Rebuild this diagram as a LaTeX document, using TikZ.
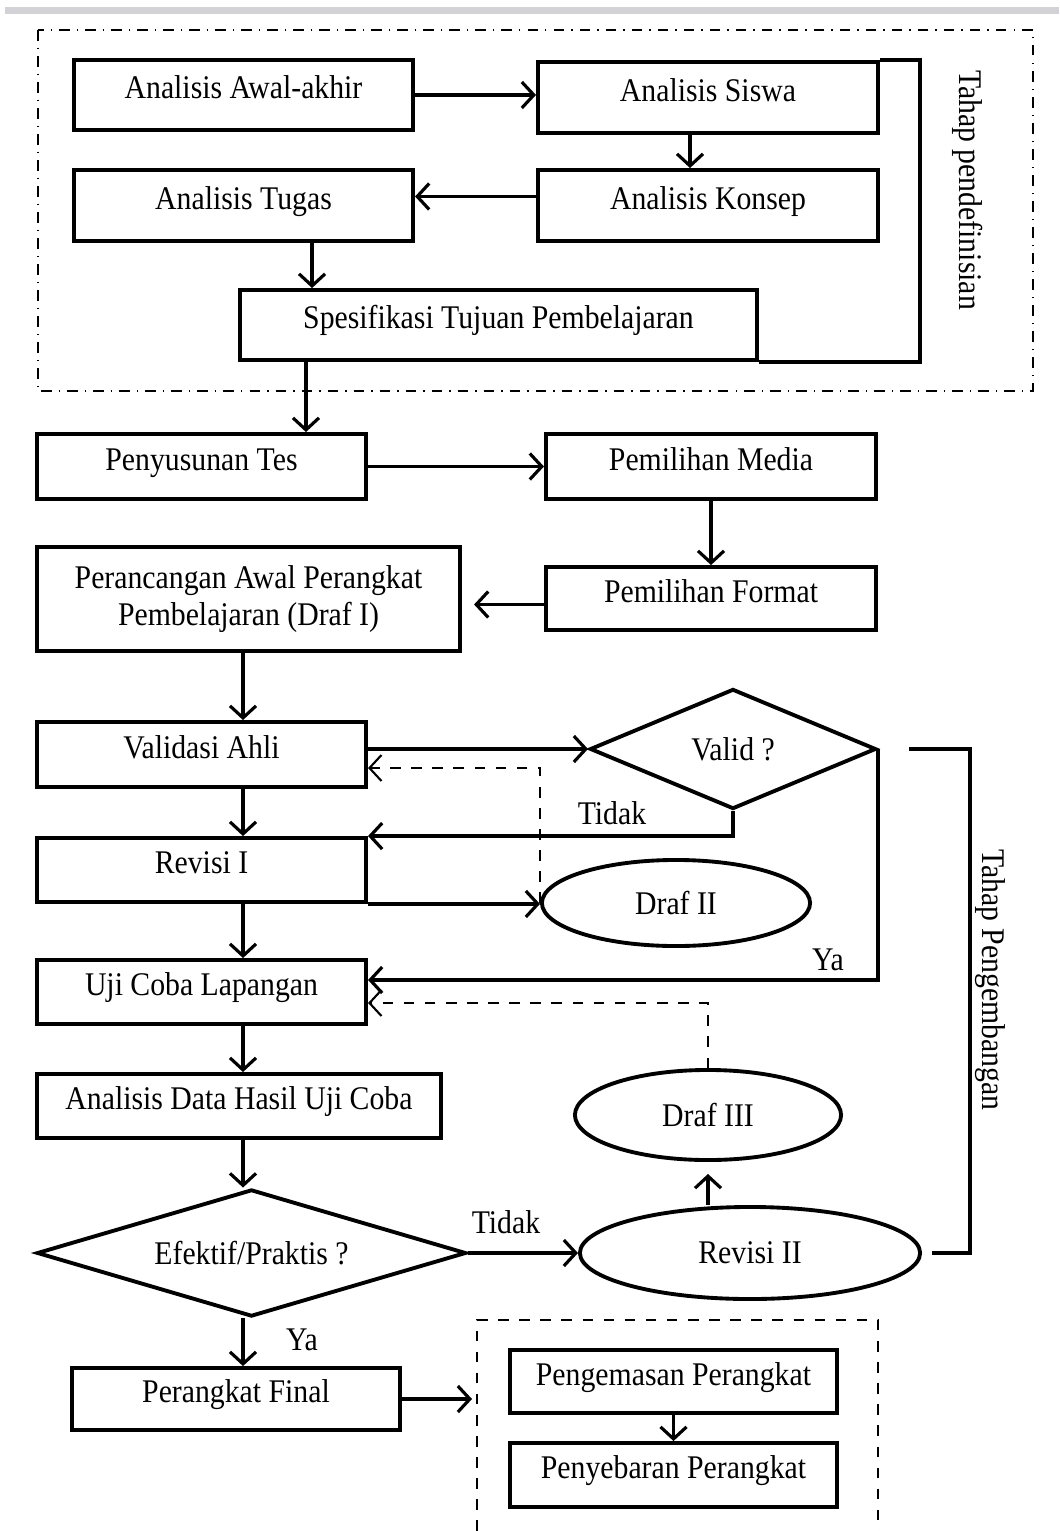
\documentclass[tikz,border=0pt]{standalone}
\usepackage{fontspec}
\setmainfont{Liberation Serif}[FakeStretch=0.9]
\usepackage{tikz}
\usetikzlibrary{calc,arrows.meta,positioning,shapes.geometric}
\definecolor{barx}{HTML}{D2D2D7}
\tikzset{
  frame/.style={draw,line width=1.1pt,align=center,inner sep=2pt},
  box/.style={frame,text height=7pt,text depth=5pt},
  oval/.style={draw,line width=1.1pt,ellipse,inner sep=0pt},
  dec/.style={draw,line width=1.1pt,diamond,inner sep=0pt,shape aspect=2},
  ar/.style={-{Straight Barb[length=1.2mm,width=2.6mm]},line width=0.9pt},
  dar/.style={-{Straight Barb[length=1.2mm,width=2.6mm]},line width=0.6pt,dashed},
  ln/.style={line width=1pt},
  lbl/.style={inner sep=1pt}
}

\begin{document}
\begin{tikzpicture}[x=0.01cm,y=-0.01cm,font=\fontsize{9.4}{10.5}\selectfont]
\useasboundingbox (0,0) rectangle (1059,1531);
\fill[barx] (5,7) rectangle (1059,14);
% tahap pendefinisian
\draw[dash dot,line width=0.7pt] (38,30) rectangle (1033,391);
\node[box,minimum width=3.39cm,minimum height=0.70cm] (awal) at (243.5,95) {Analisis Awal-akhir};
\node[box,minimum width=3.40cm,minimum height=0.71cm] (siswa) at (708,97.5) {Analisis Siswa};
\node[box,minimum width=3.40cm,minimum height=0.71cm] (konsep) at (708,205.5) {Analisis Konsep};
\node[box,minimum width=3.39cm,minimum height=0.71cm] (tugas) at (243.5,205.5) {Analisis Tugas};
\node[box,minimum width=5.17cm,minimum height=0.70cm] (spes) at (498.5,325) {Spesifikasi Tujuan Pembelajaran};
\node[rotate=-90] (def) at (968,190) {Tahap pendefinisian};
\draw[ar] (awal.east) -- (awal.east -| siswa.west);
\draw[ar] ([xshift=-0.18cm]siswa.south) -- ([xshift=-0.18cm]konsep.north);
\draw[ar] ([yshift=0.09cm]konsep.west) -- ([yshift=0.09cm]tugas.east);
\coordinate (t1) at ([xshift=0.685cm]tugas.south);
\draw[ar] (t1) -- (t1 |- spes.north);
\draw[ln] (siswa.north east) -- ++(40,0) |- (spes.south east);
% tahap pengembangan
\node[box,minimum width=3.29cm,minimum height=0.65cm] (tes) at (201.5,466.5) {Penyusunan Tes};
\node[box,minimum width=3.30cm,minimum height=0.65cm] (media) at (711,466.5) {Pemilihan Media};
\node[box,minimum width=3.30cm,minimum height=0.63cm] (format) at (711,598.5) {Pemilihan Format};
\node[frame,minimum width=4.23cm,minimum height=1.04cm] (rancang) at (248.5,599) {Perancangan Awal Perangkat\\Pembelajaran (Draf I)};
\node[box,minimum width=3.29cm,minimum height=0.65cm] (validasi) at (201.5,754.5) {Validasi Ahli};
\node[dec,minimum width=2.86cm,minimum height=1.20cm] (valid) at (733,749) {Valid ?};
\node[box,minimum width=3.29cm,minimum height=0.64cm] (revisi1) at (201.5,870) {Revisi I};
\node[oval,minimum width=2.68cm,minimum height=0.86cm] (draf2) at (676,903) {Draf II};
\node[box,minimum width=3.29cm,minimum height=0.64cm] (uji) at (201.5,992) {Uji Coba Lapangan};
\node[box,minimum width=4.04cm,minimum height=0.64cm] (data) at (239,1106) {Analisis Data Hasil Uji Coba};
\node[oval,minimum width=2.66cm,minimum height=0.90cm] (draf3) at (708,1115) {Draf III};
\node[dec,minimum width=4.29cm,minimum height=1.27cm] (efektif) at (251.5,1253) {Efektif/Praktis ?};
\node[oval,minimum width=3.40cm,minimum height=0.92cm] (revisi2) at (750,1253) {Revisi II};
\node[box,minimum width=3.28cm,minimum height=0.62cm] (final) at (236,1399) {Perangkat Final};
\node[lbl] (tidak1) at (612,813) {Tidak};
\node[lbl] (ya1) at (828,960) {Ya};
\node[lbl] (tidak2) at (506,1222) {Tidak};
\node[lbl] (ya2) at (302,1340) {Ya};
\node[rotate=-90] (dev) at (990,980) {Tahap Pengembangan};
\coordinate (spine) at (243,0);
\coordinate (s1) at ([xshift=0.68cm]spes.south west);
\draw[ar] (s1) -- (s1 |- tes.north);
\draw[ar] (tes) -- (media);
\draw[ar] (media) -- (format);
\draw[ar,shorten >=0.12cm] ([yshift=-0.06cm]format.west) -- ([yshift=-0.06cm]format.west -| rancang.east);
\draw[ar] (rancang.south -| spine) -- (validasi.north -| spine);
\draw[ar] (validasi.east |- valid.west) -- (valid.west);
\draw[dar] (draf2.west) |- ([yshift=-0.135cm]validasi.east);
\draw[ar] (validasi.south -| spine) -- (revisi1.north -| spine);
\draw[ar] (valid.south) |- (revisi1.north east);
\draw[ar] (revisi1.south east) -- (revisi1.south east -| draf2.west);
\draw[ar] (revisi1.south -| spine) -- (uji.north -| spine);
\draw[ar] (valid.east) |- ([yshift=0.12cm]uji.east);
\draw[dar] (draf3.north) |- ([yshift=-0.11cm]uji.east);
\draw[ar] (uji.south -| spine) -- (data.north -| spine);
\draw[ar] (data.south -| spine) -- (efektif.north -| spine);
\draw[ar] (efektif.east) -- (revisi2.west);
\draw[ar,shorten >=0.12cm] (draf3.south |- revisi2.north) -- (draf3.south);
\draw[ln] ([xshift=0.31cm]valid.east) -| ([xshift=0.48cm]revisi2.east) -- ([xshift=0.1cm]revisi2.east);
\draw[ar] (efektif.south -| spine) -- (final.north -| spine);
% tahap penyebaran
\coordinate (dbl) at (477,1531);
\coordinate (dtr) at (878,1320);
\draw[dashed,line width=0.6pt] (dbl) |- (dtr) -- (dtr |- dbl);
\node[box,minimum width=3.27cm,minimum height=0.63cm] (kemas) at (673.5,1381.5) {Pengemasan Perangkat};
\node[box,minimum width=3.27cm,minimum height=0.64cm] (sebar) at (673.5,1475) {Penyebaran Perangkat};
\draw[ar,shorten >=0.05cm] (final.east) -- (final.east -| dbl);
\draw[ar] (kemas) -- (sebar);
\end{tikzpicture}
\end{document}
